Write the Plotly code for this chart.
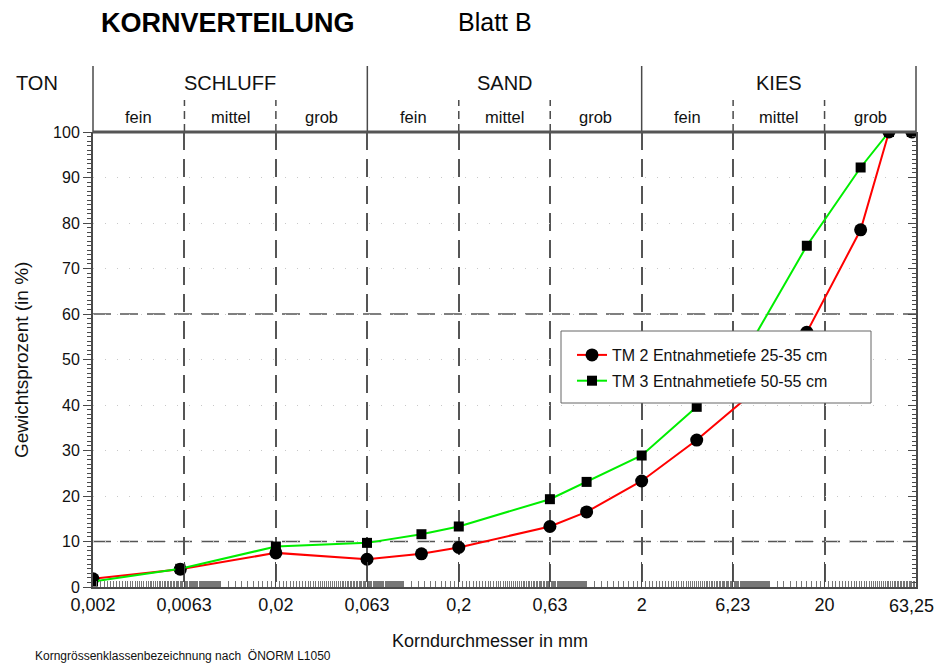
import math
import plotly.graph_objects as go

# ---------------- data ----------------
grain_mm = [0.002, 0.006, 0.02, 0.063, 0.125, 0.2, 0.63, 1, 2, 4, 8, 16, 31.5, 45, 60]
tm2_pct = [1.8, 3.9, 7.5, 6.1, 7.3, 8.7, 13.3, 16.5, 23.3, 32.3, 42.5, 56.0, 78.5, 100, 100]
tm3_pct = [1.2, 4.0, 8.9, 9.7, 11.6, 13.3, 19.3, 23.1, 28.9, 39.6, 54.0, 75.0, 92.2, 100, 100]
tm2_name = "TM 2 Entnahmetiefe 25-35 cm"
tm3_name = "TM 3 Entnahmetiefe 50-55 cm"

x_tickvals = [0.002, 0.0063, 0.02, 0.063, 0.2, 0.63, 2, 6.3, 20, 63.25]
x_ticktext = ["0,002", "0,0063", "0,02", "0,063", "0,2", "0,63", "2", "6,23", "20", "63,25"]
y_tickvals = list(range(0, 101, 10))

main_classes = ["SCHLUFF", "SAND", "KIES"]
sub_classes = ["fein", "mittel", "grob"]

# ---------------- layout helpers ----------------
# page body has an 8px margin, so the figure is placed 8px right/down
OFF = 8
W, H = 942 - OFF, 666 - OFF
L, R, T, B = 93, 916, 132, 587   # plot area in page pixels
pw, ph = R - L, B - T


def px(xp):
    return (xp - L) / pw


def py(yp):
    return (B - yp) / ph


FONT = "Arial, Liberation Sans, sans-serif"
AX = "#4a4a4a"

# minor ticks: k*10^n, k = 1.0 .. 9.9
minor_vals = []
for n in range(-3, 2):
    for k10 in range(10, 100):
        v = k10 / 10 * 10 ** n
        if 0.002 <= v <= 63.25:
            minor_vals.append(v)

fig = go.Figure()
fig.add_trace(go.Scatter(
    x=grain_mm, y=tm2_pct, name=tm2_name, mode="lines+markers",
    line=dict(color="#ff0000", width=2),
    marker=dict(symbol="circle", size=13, color="black"),
    legendgroup="a"))
fig.add_trace(go.Scatter(
    x=grain_mm, y=tm3_pct, name=tm3_name, mode="lines+markers",
    line=dict(color="#00ee00", width=2),
    marker=dict(symbol="square", size=10, color="black"),
    legendgroup="b"))
# invisible trace to make the right axis exist
fig.add_trace(go.Scatter(x=[grain_mm[0]], y=[0], yaxis="y2", mode="markers",
                         marker=dict(opacity=0), showlegend=False, hoverinfo="skip"))

shapes = []
# header vertical lines
for i in range(10):
    xf = i / 9
    if i % 3 == 0:
        shapes.append(dict(type="line", xref="paper", yref="paper", x0=xf, x1=xf,
                           y0=1, y1=py(66), line=dict(color=AX, width=1.5)))
    else:
        shapes.append(dict(type="line", xref="paper", yref="paper", x0=xf, x1=xf,
                           y0=1, y1=py(100), line=dict(color=AX, width=1.5, dash="8px,5px")))
# dashed horizontals at 10 and 60
for yv in (10, 60):
    shapes.append(dict(type="line", xref="paper", yref="y", x0=0, x1=1, y0=yv, y1=yv,
                       line=dict(color="#555", width=1.5, dash="18px,9px"), layer="below"))
# top thick line at 100
shapes.append(dict(type="line", xref="paper", yref="paper", x0=0, x1=1, y0=1, y1=1,
                   line=dict(color="#555", width=3)))
# legend box
shapes.append(dict(type="rect", xref="paper", yref="paper",
                   x0=px(561), x1=px(871), y0=py(403), y1=py(331),
                   fillcolor="white", line=dict(color="#666", width=1), layer="above"))

ann = []
ann.append(dict(text="<b>KORNVERTEILUNG</b>", x=px(99), y=py(23), xref="paper", yref="paper",
                xanchor="left", yanchor="middle", showarrow=False,
                font=dict(family=FONT, size=27, color="black")))
ann.append(dict(text="Blatt B", x=px(456), y=py(22), xref="paper", yref="paper",
                xanchor="left", yanchor="middle", showarrow=False,
                font=dict(family=FONT, size=25, color="black")))
ann.append(dict(text="TON", x=px(37), y=py(83), xref="paper", yref="paper",
                xanchor="center", yanchor="middle", showarrow=False,
                font=dict(family=FONT, size=20, color="#111")))
for j, name in enumerate(main_classes):
    ann.append(dict(text=name, x=(3 * j + 1.5) / 9, y=py(83), xref="paper", yref="paper",
                    xanchor="center", yanchor="middle", showarrow=False,
                    font=dict(family=FONT, size=20, color="#111")))
    for k, sub in enumerate(sub_classes):
        ann.append(dict(text=sub, x=(3 * j + k + 0.5) / 9, y=py(117), xref="paper", yref="paper",
                        xanchor="center", yanchor="middle", showarrow=False,
                        font=dict(family=FONT, size=16.5, color="#111")))
# last x tick label placed as annotation so it stays inside the page
ann.append(dict(text=x_ticktext[-1], x=px(911), y=py(606), xref="paper", yref="paper",
                xanchor="center", yanchor="middle", showarrow=False,
                font=dict(family=FONT, size=18, color="#111")))
ann.append(dict(text="Korndurchmesser in mm", x=px(490), y=py(641), xref="paper", yref="paper",
                xanchor="center", yanchor="middle", showarrow=False,
                font=dict(family=FONT, size=18, color="#111")))
ann.append(dict(text="Gewichtsprozent (in %)", x=px(21), y=py(360), xref="paper", yref="paper",
                xanchor="center", yanchor="middle", showarrow=False, textangle=-90,
                font=dict(family=FONT, size=19, color="#111")))
ann.append(dict(text="Korngrössenklassenbezeichnung nach  ÖNORM L1050", x=px(33), y=py(656),
                xref="paper", yref="paper", xanchor="left", yanchor="middle", showarrow=False,
                font=dict(family=FONT, size=12, color="#111")))

fig.update_layout(
    width=W, height=H,
    margin=dict(l=L - OFF, r=W - (R - OFF), t=T - OFF, b=H - (B - OFF), autoexpand=False),
    paper_bgcolor="white", plot_bgcolor="white",
    font=dict(family=FONT, color="#111"),
    showlegend=True,
    legend=dict(x=px(572), y=py(338), xanchor="left", yanchor="top",
                bgcolor="rgba(0,0,0,0)", borderwidth=0, tracegroupgap=2,
                font=dict(family=FONT, size=16, color="#111"), traceorder="grouped"),
    shapes=shapes, annotations=ann,
    xaxis=dict(type="log", range=[math.log10(0.002), math.log10(63.25)],
               tickmode="array", tickvals=x_tickvals, ticktext=x_ticktext[:-1] + [""],
               ticks="inside", ticklen=25, tickwidth=1, tickcolor=AX,
               tickfont=dict(family=FONT, size=18, color="#111"),
               showline=True, linecolor=AX, linewidth=2, mirror=False,
               showgrid=True, gridcolor="#555", gridwidth=1.5, griddash="18px,9px",
               minor=dict(tickmode="array", tickvals=minor_vals, ticks="inside",
                          ticklen=6, tickwidth=0.8, tickcolor="#777", showgrid=False),
               zeroline=False, fixedrange=True),
    yaxis=dict(range=[0, 100], tickmode="array", tickvals=y_tickvals,
               ticks="outside", ticklen=8, tickwidth=1, tickcolor=AX,
               tickfont=dict(family=FONT, size=16, color="#111"),
               showline=True, linecolor=AX, linewidth=2,
               showgrid=True, gridcolor="#c8c8c8", gridwidth=1, griddash="1px,11px",
               minor=dict(dtick=1, ticks="outside", ticklen=4, tickwidth=1, tickcolor=AX,
                          showgrid=False),
               zeroline=False, fixedrange=True),
    yaxis2=dict(range=[0, 100], overlaying="y", side="right", tickmode="array",
                tickvals=y_tickvals, ticks="inside", ticklen=8, tickwidth=1, tickcolor=AX,
                showticklabels=False, showline=True, linecolor=AX, linewidth=2,
                showgrid=False, zeroline=False,
                minor=dict(dtick=1, ticks="inside", ticklen=4, tickwidth=1, tickcolor=AX),
                fixedrange=True),
)

fig.write_html("out.html")
